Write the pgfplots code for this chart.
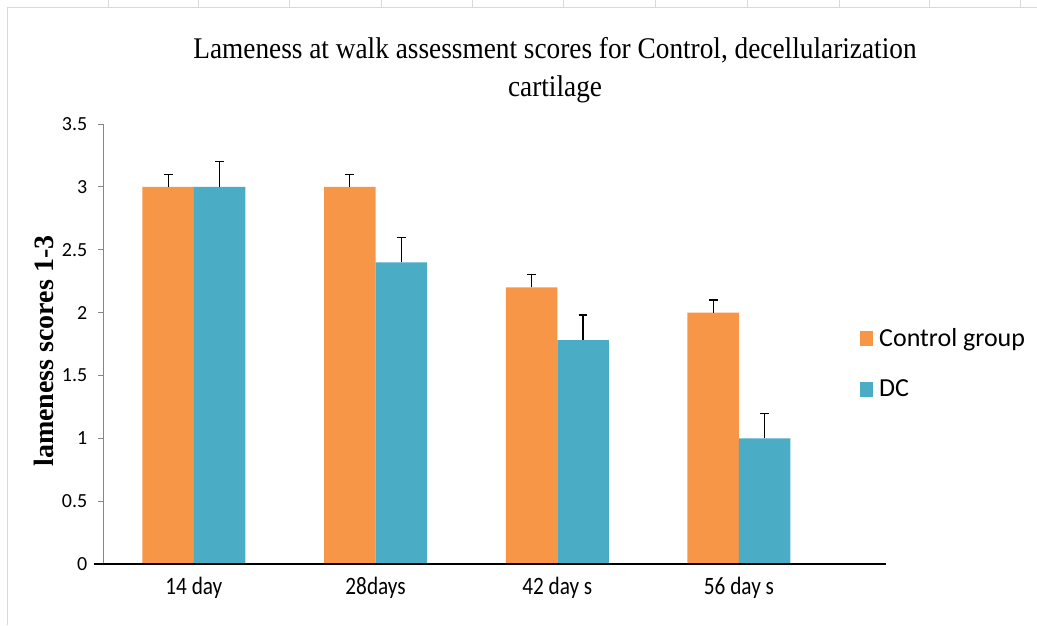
\documentclass[border=0pt]{standalone}
\usepackage{fontspec}
\setmainfont{Carlito}
\newfontfamily\serif{Liberation Serif}
\newfontfamily\titleserif[FakeStretch=0.91]{Liberation Serif}
\newfontfamily\condensed[FakeStretch=0.85]{Carlito}
\usepackage{pgfplots}
\pgfplotsset{compat=1.18}
\definecolor{cOrange}{HTML}{F79646}
\definecolor{cBlue}{HTML}{4BACC6}
\definecolor{frameC}{HTML}{D9D9D9}
\definecolor{yaxisC}{HTML}{868686}
\begin{document}
\begin{tikzpicture}
\begin{scope}[x=0.75pt,y=-0.75pt]
\path[use as bounding box] (0,0) rectangle (1037,625);
\draw[frameC, line width=0.75pt] (7,625) -- (7,7) -- (1037,7);
\foreach \xx in {108,198,289,381,472,563,655,747,839,929,1020}
  \draw[frameC, line width=0.75pt] (\xx,0) -- (\xx,7);
\node[font=\titleserif\fontsize{22.5}{27}\selectfont, anchor=base] at (555,58) {Lameness at walk assessment scores for Control, decellularization};
\node[font=\titleserif\fontsize{22.5}{27}\selectfont, anchor=base] at (555,96) {cartilage};
\end{scope}
\begin{axis}[
  at={(77.25pt,-423pt)}, anchor=south west,
  scale only axis, width=587.1pt, height=330pt,
  xmin=-0.5, xmax=3.808, ymin=0, ymax=3.5,
  ybar=0pt, bar width=0.2834,
  clip=false,
  axis x line*=bottom, axis y line*=left,
  x axis line style={draw=none,-},
  y axis line style={draw=yaxisC,-, line width=0.75pt},
  xtick={0,1,2,3},
  xticklabels={14 day,28days,42 day s,56 day s},
  x tick style={draw=none},
  major x tick style={draw=none},
  ytick={0,0.5,1,1.5,2,2.5,3,3.5},
  yticklabels={0,0.5,1,1.5,2,2.5,3,3.5},
  ytick pos=left, tick align=outside,
  major tick length=3.75pt,
  y tick style={draw=yaxisC, line width=0.75pt},
  yticklabel style={font=\fontsize{15}{18}\selectfont, text=black, xshift=-4.5pt},
  xticklabel style={font=\condensed\fontsize{18.75}{22}\selectfont, text=black, yshift=-2.5pt},
  ylabel={lameness scores 1-3},
  ylabel style={font=\serif\bfseries\fontsize{21}{25}\selectfont, at={(axis description cs:-0.0754,0.484)}, anchor=center},
  legend style={draw=none, fill=none, at={(axis description cs:0.967,0.541)}, anchor=north west,
    font=\fontsize{19.5}{23}\selectfont, row sep=19pt, inner sep=0pt,
    /tikz/every odd column/.append style={column sep=2.5pt}},
  legend cell align=left,
  legend image code/.code={\fill[#1] (0pt,-5.6pt) rectangle (9.75pt,5.6pt);},
  error bars/y dir=plus, error bars/y explicit,
  error bars/error bar style={black, line width=0.9pt},
  error bars/error mark options={rotate=90, black, mark size=3.3pt, line width=0.9pt},
]
\addplot[fill=cOrange, draw=none] coordinates {
  (0,3) +- (0,0.1)
  (1,3) +- (0,0.1)
  (2,2.2) +- (0,0.1)
  (3,2.0) +- (0,0.1)
};
\addlegendentry{Control group}
\addplot[fill=cBlue, draw=none] coordinates {
  (0,3) +- (0,0.2)
  (1,2.4) +- (0,0.2)
  (2,1.78) +- (0,0.2)
  (3,1.0) +- (0,0.2)
};
\addlegendentry{DC}
\draw[black, line width=1.5pt] (axis cs:-0.5504,0) -- (axis cs:3.808,0);
\end{axis}
\end{tikzpicture}
\end{document}
